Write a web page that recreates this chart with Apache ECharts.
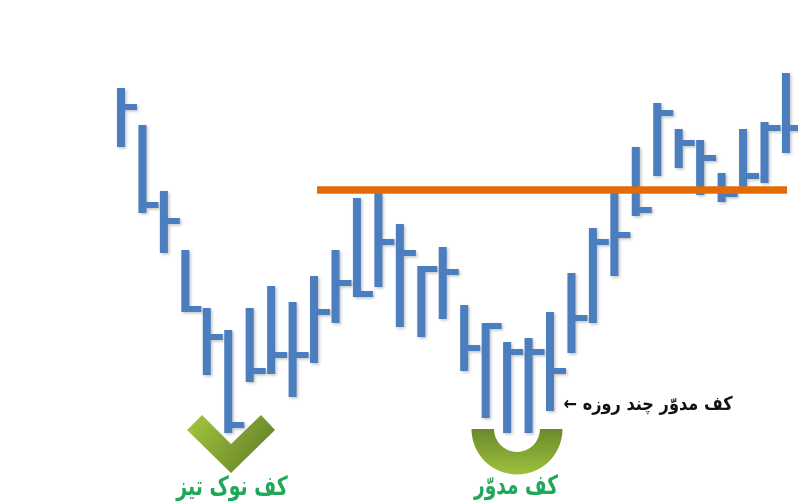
<!DOCTYPE html>
<html>
<head>
<meta charset="utf-8">
<style>html,body{margin:0;padding:0;background:#fff}#c{width:801px;height:504px}</style>
<script src="https://cdn.jsdelivr.net/npm/echarts@6/dist/echarts.min.js"></script>
</head>
<body>
<div id="c"></div>
<script>
const highs  = [416,379,313,254,196,174,196,218,202,228,254,306,311,280,238,257,199,181,162,166,192,231,276,311,357,401,375,364,331,375,382,431];
const lows   = [357,291,251,192,129,71,122,130,107,141,181,207,217,177,167,185,133,86,71,71,93,151,181,228,288,328,336,309,302,317,321,351];
const closes = [397,299,283,195,167,79,133,149,149,192,221,210,262,251,235,232,156,178,152,152,133,186,262,269,294,391,361,346,310,328,376,376];
const resistanceLevel = 314;
const resistanceFrom = 9.14;
const resistanceTo = 31.05;
const labelSharp = 'کف نوک تیز';
const labelRound = 'کف مدوّر';
const labelNote = '← کف مدوّر چند روزه';

const BLUE = '#4a7ebf', BAR_W = 8, TICK_LEN = 16, TICK_H = 6;
const shadow = {shadowColor:'rgba(60,60,60,0.3)', shadowBlur:3, shadowOffsetX:1.5, shadowOffsetY:1.5};

const chart = echarts.init(document.getElementById('c'), null, {renderer:'canvas'});
chart.setOption({
  animation:false,
  backgroundColor:'#ffffff',
  grid:{left:110.27, top:0, width:686.4, height:504},
  xAxis:{type:'value', min:-0.5, max:31.5, show:false},
  yAxis:{type:'value', min:0, max:504, show:false},
  graphic:{elements:[
    {type:'polygon', z:0, silent:true,
     shape:{points:[[202,415],[231,444],[261,415],[275,430],[231,473],[187,430]]},
     style:{fill:new echarts.graphic.LinearGradient(0,0,1,1,[{offset:0,color:'#a9c63f'},{offset:1,color:'#587a26'}])}},
    {type:'sector', z:0, silent:true,
     shape:{cx:517, cy:429, r:45.5, r0:23, startAngle:0, endAngle:Math.PI, clockwise:true},
     style:{fill:new echarts.graphic.LinearGradient(0,0,0,1,[{offset:0,color:'#6a8a2c'},{offset:1,color:'#9cc13c'}])}},
    {type:'text', z:5, silent:true, x:232, y:488, scaleX:0.82, scaleY:1.15,
     style:{text:labelSharp, fill:'#1fa85a', font:'bold 23px "DejaVu Sans"', align:'center', verticalAlign:'middle'}},
    {type:'text', z:5, silent:true, x:516, y:487, scaleX:0.81, scaleY:1.15,
     style:{text:labelRound, fill:'#1fa85a', font:'bold 23px "DejaVu Sans"', align:'center', verticalAlign:'middle'}},
    {type:'text', z:5, silent:true, x:648, y:405, scaleX:0.95, scaleY:1.12,
     style:{text:labelNote, fill:'#111111', font:'bold 17px "DejaVu Sans"', align:'center', verticalAlign:'middle'}}
  ]},
  series:[
    {
      type:'custom', z:2, clip:true,
      encode:{x:0, y:[1,2,3]},
      data:highs.map((h,i)=>[i,h,lows[i],closes[i]]),
      renderItem(params, api){
        const x = api.coord([api.value(0),0])[0];
        const top = api.coord([0,api.value(1)])[1];
        const bot = api.coord([0,api.value(2)])[1];
        const cl  = api.coord([0,api.value(3)])[1];
        const l = x-BAR_W/2, r = x+BAR_W/2, te = x+TICK_LEN;
        const t0 = Math.max(cl-TICK_H/2, top), t1 = Math.min(cl+TICK_H/2, bot);
        return {type:'polygon',
          shape:{points:[[l,top],[r,top],[r,t0],[te,t0],[te,t1],[r,t1],[r,bot],[l,bot]]},
          style:{fill:BLUE, ...shadow}};
      }
    },
    {
      type:'line', z:3, symbol:'none', silent:true,
      data:[[resistanceFrom,resistanceLevel],[resistanceTo,resistanceLevel]],
      lineStyle:{color:'#e36c0a', width:7.5, cap:'butt'}
    }
  ]
});
</script>
</body>
</html>
